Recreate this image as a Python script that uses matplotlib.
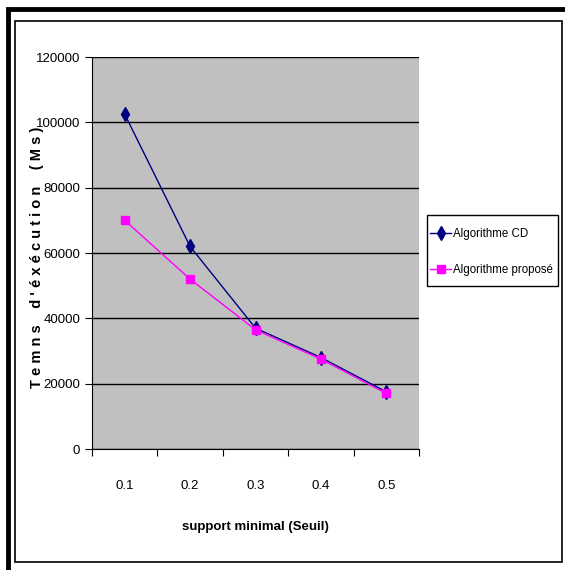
import matplotlib.pyplot as plt
from matplotlib.patches import Rectangle

# Data
seuils = ["0.1", "0.2", "0.3", "0.4", "0.5"]
algo_cd = [102500, 62000, 37000, 28000, 17500]
algo_propose = [70000, 52000, 36500, 27500, 17000]
y_ticks = [0, 20000, 40000, 60000, 80000, 100000, 120000]

plt.rcParams['font.family'] = ['Liberation Sans', 'DejaVu Sans']

fig = plt.figure(figsize=(5.65, 5.7), dpi=100)
W, H = 565, 570

# frame borders (thick outer on left/top, thin inner box)
fig.patches.append(Rectangle((8 / W, -0.1), 1.2, (H - 8.5) / H + 0.1, transform=fig.transFigure,
                             fill=False, lw=3.5, ec="black"))
fig.patches.append(Rectangle((14.5 / W, 8 / H), 547 / W, 541 / H, transform=fig.transFigure,
                             fill=False, lw=1.2, ec="black"))
# legend box (drawn behind the legend entries)
fig.patches.append(Rectangle((427 / W, 1 - 286 / H), 131 / W, 71 / H, transform=fig.transFigure,
                             fill=False, lw=1.0, ec="black", zorder=-1))

ax = fig.add_axes([92 / W, 1 - 449 / H, (419 - 92) / W, (449 - 57) / H])
ax.set_facecolor("#c0c0c0")

x = list(range(len(seuils)))
ax.plot(x, algo_cd, color="#000080", lw=1, marker="d", ms=7, label="Algorithme CD")
ax.plot(x, algo_propose, color="#ff00ff", lw=1, marker="s", ms=6, label="Algorithme proposé")

ax.set_xlim(-0.5, 4.5)
ax.set_ylim(0, 120000)
ax.set_yticks(y_ticks)
ax.set_yticklabels([str(v) for v in y_ticks], fontsize=9.5)
ax.yaxis.grid(True, color="black", lw=1)
ax.set_axisbelow(True)

ax.set_xticks([i - 0.5 for i in range(len(seuils) + 1)])
ax.set_xticklabels([])
ax.set_xticks(x, minor=True)
ax.set_xticklabels(seuils, minor=True, fontsize=9.5)
ax.tick_params(axis="x", which="minor", length=0, pad=22)
ax.tick_params(axis="x", which="major", length=5, direction="out")
ax.tick_params(axis="y", length=5, direction="out")

for side in ["top", "right"]:
    ax.spines[side].set_visible(False)

ax.set_xlabel("support minimal (Seuil)", fontsize=9.5, fontweight="bold", labelpad=21)
ax.set_ylabel("T e m n s    d ' é x é c u t i o n    ( M s )", fontsize=10.5,
              fontweight="bold")
ax.yaxis.set_label_coords(-48 / (419 - 92), 0.49)

leg = ax.legend(loc="center left", bbox_to_anchor=(428 / W, 1 - 252 / H),
                bbox_transform=fig.transFigure, frameon=False,
                fontsize=8.3, handlelength=1.8,
                borderpad=0.2, labelspacing=2.05, handletextpad=0.2,
                borderaxespad=0)

fig.savefig("out.png", dpi=100)
